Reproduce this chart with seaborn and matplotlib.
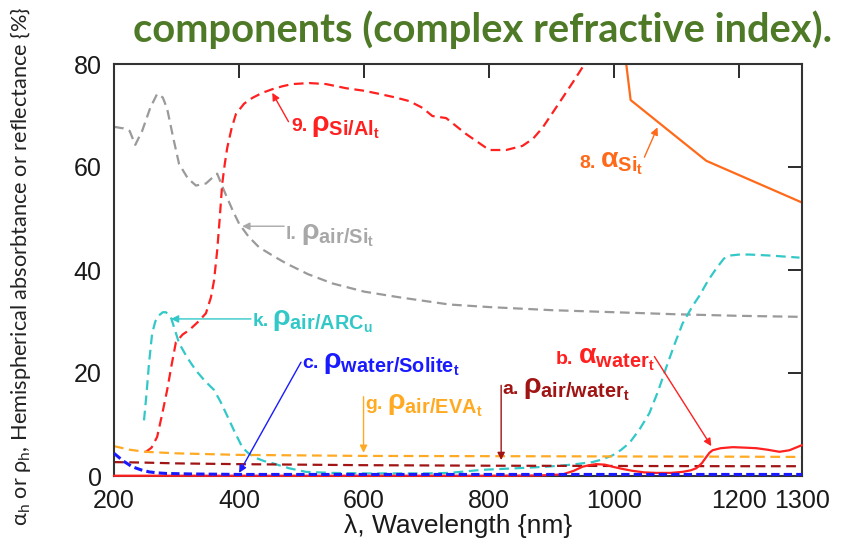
import numpy as np
import pandas as pd
import matplotlib
matplotlib.use("Agg")
import matplotlib.pyplot as plt
import seaborn as sns

# ---------------- data ----------------
wl_air_si = [200, 215, 225, 234, 245, 258, 269, 278, 285, 295, 304, 318, 331, 347, 358, 365,
             376, 390, 400, 415, 432, 455, 475, 510, 549, 600, 656, 736, 800, 900, 1000,
             1100, 1200, 1300]
rho_air_si = [67.8, 67.5, 67.0, 64.3, 67.0, 71.5, 74.2, 73.5, 71.3, 65.5, 60.6, 57.8, 56.4,
              56.8, 58.0, 58.7, 55.4, 51.5, 49.0, 46.5, 44.4, 42.7, 41.3, 39.2, 37.4, 35.8,
              34.7, 33.3, 32.8, 32.2, 31.8, 31.4, 31.1, 30.9]

wl_si_al = [250, 260, 269, 277, 285, 292, 299, 310, 320, 335, 347, 355, 360, 365, 369, 373,
            377, 381, 388, 395, 408, 421, 437, 453, 470, 485, 512, 539, 571, 600, 624, 650,
            672, 693, 709, 731, 763, 800, 827, 853, 870, 885, 900, 917, 935, 955]
rho_si_al = [4.6, 5.5, 7.6, 12.0, 16.7, 21.5, 26.0, 27.5, 28.3, 30.0, 31.6, 34.7, 38.0, 43.8,
             50.0, 56.7, 60.5, 63.7, 67.5, 70.3, 72.3, 73.4, 74.4, 75.1, 75.7, 76.1, 76.3,
             76.1, 75.3, 74.8, 74.2, 73.5, 72.8, 71.5, 69.9, 69.5, 66.4, 63.3, 63.3, 64.1,
             65.5, 67.6, 70.3, 73.4, 76.7, 80.5]

wl_air_arc = [248, 252, 256, 261, 266, 272, 278, 283, 291, 297, 304, 317, 331, 345, 360, 370,
              379, 392, 405, 415, 427, 440, 453, 480, 507, 549, 600, 650, 700, 736, 789, 843,
              890, 923, 945, 965, 980, 997, 1010, 1024, 1040, 1056, 1070, 1083, 1096, 1109,
              1125, 1136, 1150, 1163, 1175, 1184, 1200, 1216, 1250, 1296]
rho_air_arc = [10.8, 16.0, 21.9, 27.7, 30.0, 31.2, 31.8, 31.8, 30.8, 28.5, 25.8, 23.0, 20.5,
               18.5, 16.7, 14.5, 12.2, 8.8, 5.6, 4.4, 3.5, 2.9, 2.5, 1.5, 0.8, 0.6, 0.5, 0.5,
               0.5, 0.6, 1.2, 1.5, 1.8, 2.1, 2.4, 2.7, 3.2, 4.0, 5.0, 6.4, 9.0, 12.2, 16.5,
               21.1, 25.5, 29.6, 33.0, 35.0, 38.0, 40.3, 42.2, 42.8, 43.0, 43.0, 42.8, 42.4]

wl_air_eva = [200, 225, 250, 300, 400, 500, 600, 800, 1000, 1200, 1300]
rho_air_eva = [5.8, 5.1, 4.7, 4.4, 4.1, 4.0, 3.9, 3.85, 3.8, 3.75, 3.7]

wl_air_water = [200, 250, 300, 400, 500, 600, 800, 1000, 1200, 1300]
rho_air_water = [2.7, 2.6, 2.45, 2.3, 2.2, 2.1, 2.0, 1.95, 1.9, 1.9]

wl_water_solite = [200, 215, 229, 243, 256, 270, 283, 320, 400, 600, 800, 1000, 1200, 1300]
rho_water_solite = [4.4, 2.9, 1.8, 1.2, 0.8, 0.6, 0.5, 0.4, 0.3, 0.3, 0.3, 0.3, 0.3, 0.3]

wl_alpha_water = [200, 400, 600, 800, 880, 917, 935, 949, 960, 971, 985, 997, 1012, 1029,
                  1048, 1067, 1090, 1109, 1122, 1131, 1140, 1147, 1152, 1157, 1170, 1189,
                  1210, 1227, 1245, 1264, 1280, 1296, 1300]
alpha_water = [0.05, 0.05, 0.05, 0.05, 0.1, 0.3, 1.0, 1.8, 2.1, 2.3, 2.2, 1.8, 1.4, 1.0, 0.7,
               0.6, 0.6, 0.8, 1.1, 1.5, 2.5, 3.7, 4.5, 5.0, 5.4, 5.6, 5.5, 5.4, 5.1, 4.7,
               5.0, 5.8, 6.0]

wl_alpha_si = [1000, 1026, 1147, 1300]
alpha_si = [99.0, 73.0, 61.2, 53.1]

x_ticks = [200, 400, 600, 800, 1000, 1200, 1300]
y_ticks = [0, 20, 40, 60, 80]

# ---------------- style ----------------
sns.set_theme(style="white")
plt.rcParams["font.family"] = ["Liberation Sans", "DejaVu Sans"]
plt.rcParams["lines.scale_dashes"] = False

W, H = 843, 540
fig = plt.figure(figsize=(W / 100, H / 100), dpi=100)
ax = fig.add_axes([114 / W, (H - 476) / H, (802 - 114) / W, (476 - 64) / H])

C_GRAY = "#9a9a9a"
C_RED = "#ff2020"
C_ORANGE = "#ff6a1a"
C_CYAN = "#33c8c8"
C_BLUE = "#1a1aff"
C_YEL = "#ffaa22"
C_DRED = "#a01414"

DASH = (0, (7, 4))


def draw(x, y, color, ls, lw, clip=True, z=2):
    df = pd.DataFrame({"wl": x, "v": y})
    sns.lineplot(data=df, x="wl", y="v", color=color, linestyle=ls, linewidth=lw,
                 ax=ax, clip_on=clip, zorder=z, sort=False, estimator=None)


draw(wl_air_si, rho_air_si, C_GRAY, DASH, 1.6)
draw(wl_air_arc, rho_air_arc, C_CYAN, DASH, 1.6)
draw(wl_si_al, rho_si_al, C_RED, DASH, 1.6)
draw(wl_air_eva, rho_air_eva, C_YEL, DASH, 1.6)
draw(wl_air_water, rho_air_water, C_DRED, DASH, 1.6)
draw(wl_alpha_water, alpha_water, C_RED, "-", 1.6, clip=False, z=3)
draw(wl_water_solite, rho_water_solite, C_BLUE, (0, (6, 3)), 2.2, z=4)
draw(wl_alpha_si, alpha_si, C_ORANGE, "-", 1.6)

ax.set_xlim(200, 1300)
ax.set_ylim(0, 80)
ax.set_xticks(x_ticks)
ax.set_yticks(y_ticks)
ax.set_xticklabels([str(v) for v in x_ticks])
ax.set_yticklabels([str(v) for v in y_ticks])
ax.tick_params(direction="in", top=True, right=True, length=10, width=1.3,
               labelsize=18, colors="#1a1a1a", pad=9)
for s in ax.spines.values():
    s.set_color("#333333")
    s.set_linewidth(1.5)
    s.set_visible(True)
ax.set_xlabel("λ, Wavelength {nm}", fontsize=19, color="#1a1a1a", labelpad=1)
ax.set_ylabel("")

# ---------------- annotations ----------------
notes = [
    ("9.", r"$\mathregular{\rho_{Si/Al_t}}$", (483, 67.0), (479, 68.8), (453, 74.4), C_RED),
    ("l.", r"$\mathregular{\rho_{air/Si_t}}$", (475, 46.0), (472, 48.5), (405, 48.5), "#a8a8a8"),
    ("8.", r"$\mathregular{\alpha_{Si_t}}$", (944, 59.9), (1048, 61.9), (1069, 67.7), C_ORANGE),
    ("k.", r"$\mathregular{\rho_{air/ARC_u}}$", (421, 29.2), (419, 30.5), (291, 30.5), C_CYAN),
    ("c.", r"$\mathregular{\rho_{water/Solite_t}}$", (501, 20.9), (499, 22.1), (400, 0.6), C_BLUE),
    ("g.", r"$\mathregular{\rho_{air/EVA_t}}$", (602, 13.0), (599, 15.4), (599, 4.5), C_YEL),
    ("a.", r"$\mathregular{\rho_{air/water_t}}$", (821, 16.0), (819, 17.6), (819, 3.1), C_DRED),
    ("b.", r"$\mathregular{\alpha_{water_t}}$", (907, 21.8), (1064, 23.2), (1155, 5.8), C_RED),
]
heads = []
for lab, math, tpos, a0, a1, col in notes:
    t1 = ax.text(tpos[0], tpos[1], lab, color=col, fontsize=14, fontweight="bold",
                 ha="left", va="baseline", zorder=6)
    heads.append(t1)
    ax.annotate("", xy=a1, xytext=a0,
                arrowprops=dict(arrowstyle="-|>", color=col, lw=1.0, shrinkA=0,
                                shrinkB=0, mutation_scale=11), zorder=6)

# ---------------- figure texts ----------------
title = fig.text(133 / W, (H - 42) / H, "components (complex refractive index).",
                 color="#4e7a27", fontsize=27, fontweight="bold",
                 family=["Lato", "DejaVu Sans"], ha="left", va="baseline")
ylab = fig.text(21 / W, (H - 266) / H,
                r"$\mathregular{\alpha_h}$ or $\mathregular{\rho_h}$, Hemispherical absorbtance or reflectance {%}",
                rotation=90, ha="center", va="center", fontsize=15, color="#222222",
                family=["Lato", "DejaVu Sans"])

fig.canvas.draw()
r = fig.canvas.get_renderer()
bb = title.get_window_extent(r)
title.set_fontsize(title.get_fontsize() * 698 / bb.width)
bb = ylab.get_window_extent(r)
ylab.set_fontsize(ylab.get_fontsize() * 522 / bb.height)

inv = ax.transData.inverted()
for t1, (lab, math, tpos, a0, a1, col) in zip(heads, notes):
    bb = t1.get_window_extent(r)
    xd = inv.transform((bb.x1 + 4, bb.y0))[0]
    ax.text(xd, tpos[1], math, color=col, fontsize=20.5, fontweight="bold",
            ha="left", va="baseline", zorder=6)

fig.savefig("out.png", dpi=100)
